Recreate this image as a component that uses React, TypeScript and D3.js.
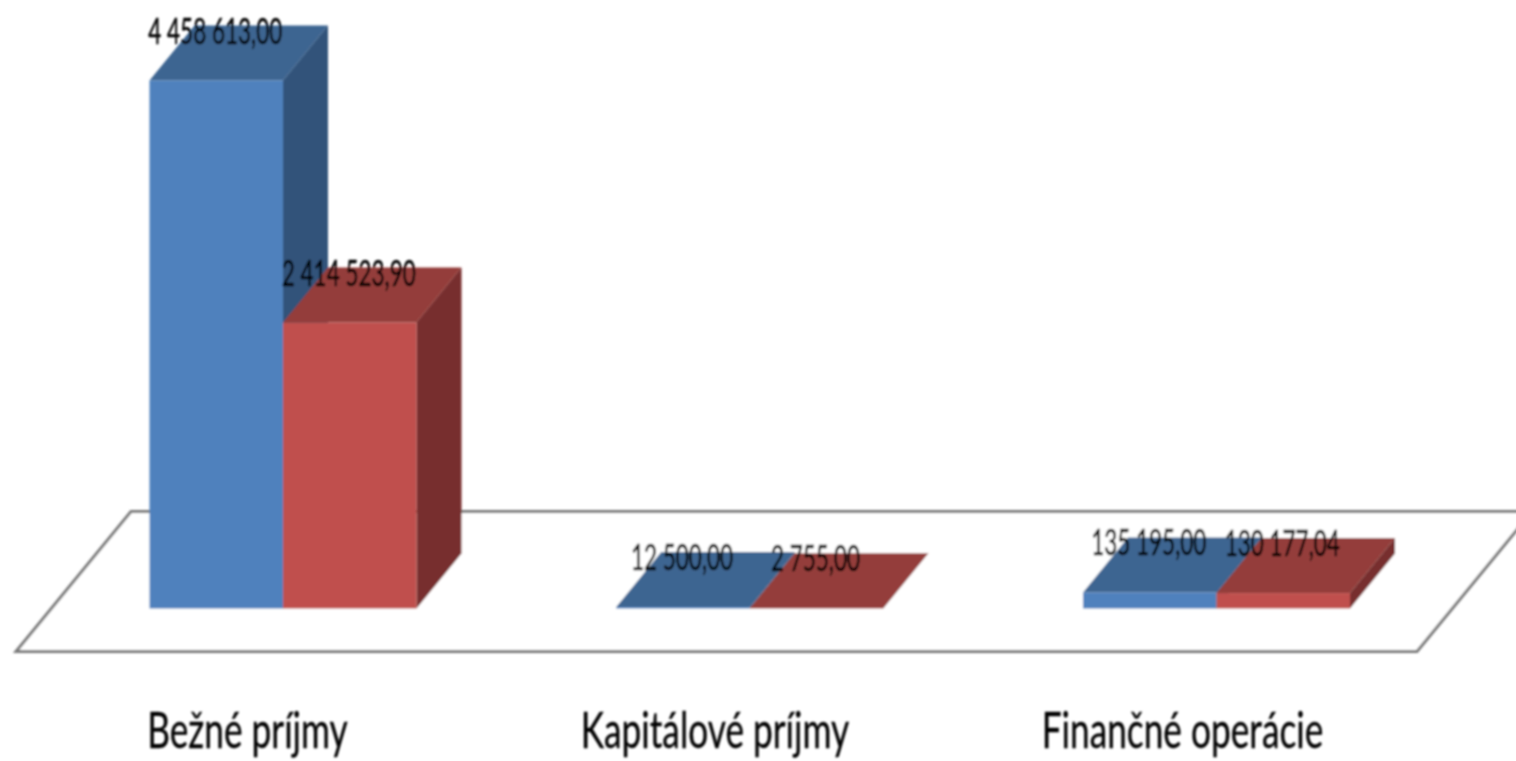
import React from "react";
import * as d3 from "d3";

const categories = ["Bežné príjmy", "Kapitálové príjmy", "Finančné operácie"];
const seriesNames = ["A", "B"];
const seriesA = [4458613.0, 12500.0, 135195.0];
const seriesB = [2414523.9, 2755.0, 130177.04];
const seriesValues = [seriesA, seriesB];
const labelsA = ["4 458 613,00", "12 500,00", "135 195,00"];
const labelsB = ["2 414 523,90", "2 755,00", "130 177,04"];
const seriesLabels = [labelsA, labelsB];
const frontColors = ["#4f81bd", "#c0504d"];
const topColors = ["#3d6591", "#943e3b"];
const sideColors = ["#31527a", "#772f2d"];

const W = 1516, H = 761;
const DX = 45, DY = -55;
const FLOOR_DX = 115, FLOOR_DY = -140;
const FONT = "Lato, Carlito, sans-serif";

export default function App() {
  const x = d3.scalePoint<string>().domain(categories).range([283, 1216.5]);
  const inner = d3.scaleBand<string>().domain(seriesNames).range([-133.5, 133.5]);
  const y = d3.scaleLinear().domain([0, 4458613]).range([608.5, 80.5]);
  const labelX = d3.scalePoint<string>().domain(categories).range([247.5, 1182.5]);

  const floorY = y(0) + 43;
  const floorL = 16, floorR = 1417;
  const line = d3.line();
  const floor = line([
    [floorL, floorY],
    [floorL + FLOOR_DX, floorY + FLOOR_DY],
    [floorR + FLOOR_DX, floorY + FLOOR_DY],
    [floorR, floorY],
  ]) + "Z";

  return (
    <svg width={W} height={H} viewBox={`0 0 ${W} ${H}`} style={{ position: "absolute", left: 0, top: 0, background: "#fff" }}>
      <defs>
        <filter id="soft" x="-5%" y="-5%" width="110%" height="110%">
          <feGaussianBlur stdDeviation="0.9" />
        </filter>
      </defs>
      <g filter="url(#soft)">
        <path d={floor} fill="#fff" stroke="#7a7a7a" strokeWidth={3} />
        {seriesNames.map((s, si) => (
          <g key={s}>
            {categories.map((c, ci) => {
              const x0 = x(c)! + inner(s)!;
              const x1 = x0 + inner.bandwidth();
              const y0 = y(0);
              const yt = y(seriesValues[si][ci]);
              return (
                <g key={c}>
                  <path d={line([[x0, yt], [x0 + DX, yt + DY], [x1 + DX, yt + DY], [x1, yt]]) + "Z"} fill={topColors[si]} />
                  <path d={line([[x1, yt], [x1 + DX, yt + DY], [x1 + DX, y0 + DY], [x1, y0]]) + "Z"} fill={sideColors[si]} />
                  <rect x={x0} y={yt} width={x1 - x0} height={y0 - yt} fill={frontColors[si]} />
                </g>
              );
            })}
          </g>
        ))}
        {seriesNames.map((s, si) =>
          categories.map((c, ci) => {
            const cx = x(c)! + inner(s)! + inner.bandwidth() / 2 - 1;
            const yt = y(seriesValues[si][ci]) + DY;
            return (
              <text key={s + c} transform={`translate(${cx},${yt + 18}) scale(0.625,1)`} textAnchor="middle"
                fontFamily={FONT} fontSize={36} fill="#000" stroke="#000" strokeWidth={0.5}>
                {seriesLabels[si][ci]}
              </text>
            );
          })
        )}
        {categories.map((c) => (
          <text key={c} transform={`translate(${labelX(c)},748) scale(0.705,1)`} textAnchor="middle"
            fontFamily={FONT} fontSize={50} fill="#000" stroke="#000" strokeWidth={0.3}>
            {c}
          </text>
        ))}
      </g>
    </svg>
  );
}
